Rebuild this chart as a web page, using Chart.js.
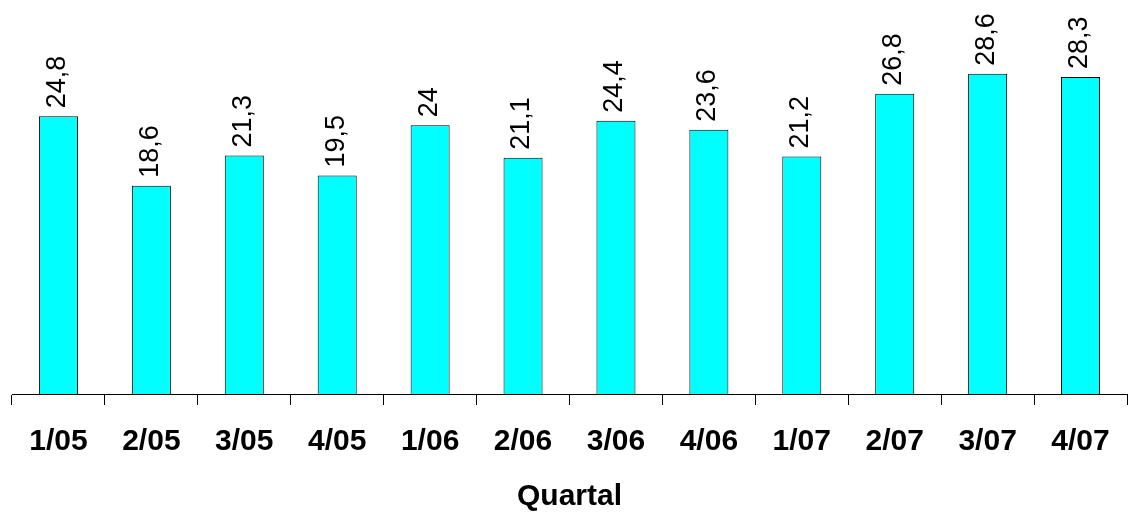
<!DOCTYPE html>
<html>
<head>
<meta charset="utf-8">
<script src="https://cdn.jsdelivr.net/npm/chart.js@4.4.1/dist/chart.umd.min.js"></script>
<style>
  html, body { margin: 0; padding: 0; background: #fff; }
  #wrap { width: 1128px; height: 513px; }
</style>
</head>
<body>
<div id="wrap"><canvas id="c" width="1128" height="513"></canvas></div>
<script>
// Quarterly values
const quarters = ['1/05', '2/05', '3/05', '4/05', '1/06', '2/06', '3/06', '4/06', '1/07', '2/07', '3/07', '4/07'];
const values = [24.8, 18.6, 21.3, 19.5, 24, 21.1, 24.4, 23.6, 21.2, 26.8, 28.6, 28.3];
const axisTitle = 'Quartal';

const FONT = '"Liberation Sans", Arial, Helvetica, sans-serif';

// Vertical value labels above each bar, German decimal comma
const valueLabels = {
  id: 'valueLabels',
  afterDatasetsDraw(chart) {
    const ctx = chart.ctx;
    const meta = chart.getDatasetMeta(0);
    ctx.save();
    ctx.fillStyle = '#000';
    ctx.font = '27px ' + FONT;
    ctx.textAlign = 'left';
    ctx.textBaseline = 'middle';
    meta.data.forEach((bar, i) => {
      const txt = String(values[i]).replace('.', ',');
      ctx.save();
      ctx.translate(bar.x - 1, bar.y - 8);
      ctx.rotate(-Math.PI / 2);
      ctx.fillText(txt, 0, 0);
      ctx.restore();
    });
    ctx.restore();
  }
};

new Chart(document.getElementById('c'), {
  type: 'bar',
  data: {
    labels: quarters,
    datasets: [{
      data: values,
      backgroundColor: '#00FFFF',
      borderColor: '#000',
      borderWidth: 1,
      categoryPercentage: 1,
      barPercentage: 0.42
    }]
  },
  options: {
    responsive: false,
    animation: false,
    layout: { padding: { left: 12, right: 1, top: 2, bottom: 0 } },
    plugins: { legend: { display: false }, tooltip: { enabled: false } },
    scales: {
      y: { display: false, min: 0, max: 35 },
      x: {
        afterFit(scale) {
          scale.paddingLeft = 0;
          scale.paddingRight = 0;
        },
        grid: {
          offset: true,
          drawOnChartArea: false,
          drawTicks: true,
          tickLength: 11,
          color: '#000'
        },
        border: { display: true, color: '#000', width: 1 },
        ticks: {
          color: '#000',
          padding: 22,
          font: { family: FONT, size: 30, weight: 'bold', lineHeight: 1.0 },
          maxRotation: 0,
          autoSkip: false
        },
        title: {
          display: true,
          text: axisTitle,
          color: '#000',
          font: { family: FONT, size: 30, weight: 'bold', lineHeight: 1.1 },
          padding: { top: 1, bottom: 0 }
        }
      }
    }
  },
  plugins: [valueLabels]
});
</script>
</body>
</html>
